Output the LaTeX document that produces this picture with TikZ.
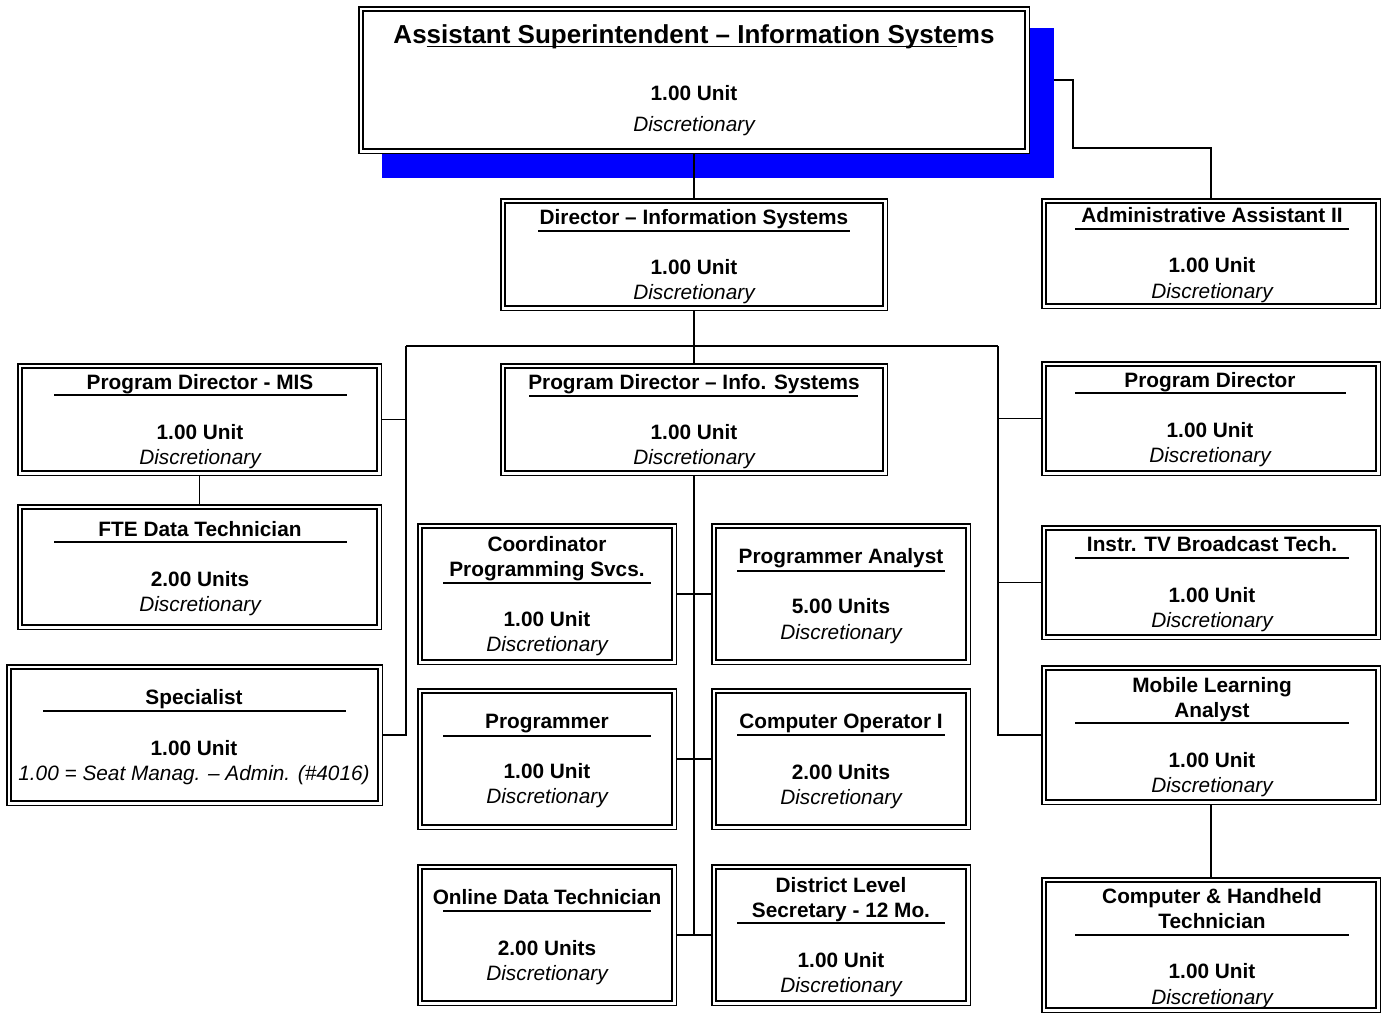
\documentclass[tikz,border=0pt]{standalone}
\usepackage{fontspec}
\setmainfont{Liberation Sans}
\newcommand\bodysize{\fontsize{10.4pt}{12pt}\selectfont}
\newcommand\ulpart[1]{{\setbox0\hbox{#1}\rlap{\rule[-2.2pt]{\wd0}{0.9pt}}\box0}}
\newcommand\orgbox[5]{%
  \node[obox, minimum width={(#4-#2-5.8)*0.5}, minimum height={(#5-#3-5.8)*0.5}] (#1) at ({(#2+#4)/2},{(#3+#5)/2}) {};}
\tikzset{
  obox/.style={draw=black, line width=0.75pt, double=white, double distance=1.4pt, fill=white, inner sep=0pt, outer sep=1.45pt},
  conn/.style={line width=0.9pt},
  ul/.style={line width=0.9pt},
  ttl/.style={font=\bodysize\bfseries, anchor=base, inner sep=0pt},
  unit/.style={font=\bodysize\bfseries, anchor=base, inner sep=0pt},
  disc/.style={font=\bodysize\itshape, anchor=base, inner sep=0pt},
}
\begin{document}
\begin{tikzpicture}[x=0.5pt, y=-0.5pt]
\useasboundingbox (0,0) rectangle (1382,1014);
\fill[white] (0,0) rectangle (1382,1014);

% shadow and top box
\node[fill=blue, inner sep=0pt, outer sep=0pt, minimum width={(1054-382)*0.5}, minimum height={(178-28)*0.5}] (shadow) at (718,103) {};
\orgbox{top}{358}{6}{1030}{154}
\node[ttl, font=\fontsize{13pt}{15pt}\selectfont\bfseries] (top-t) at (694,43) {As\ulpart{sistant Superintendent – Information Syste}ms};
\node[unit] (top-u) at (694,100) {1.00 Unit};
\node[disc] (top-d) at (694,131) {Discretionary};

% Director
\orgbox{dir}{500}{198}{888}{311}
\node[ttl] (dir-t) at (694,224) {Director – Information Systems};
\draw[ul] (538,231) -- (850,231);
\node[unit] (dir-u) at (694,274) {1.00 Unit};
\node[disc] (dir-d) at (694,299) {Discretionary};

% Admin assistant
\orgbox{admin}{1041}{198}{1381}{309}
\node[ttl] (admin-t) at (1212,222) {Administrative Assistant II};
\draw[ul] (1075,229) -- (1349,229);
\node[unit] (admin-u) at (1212,272) {1.00 Unit};
\node[disc] (admin-d) at (1212,298) {Discretionary};

% Program Director - MIS
\orgbox{pdmis}{17}{363}{382}{476}
\node[ttl] (pdmis-t) at (200,389) {Program Director - MIS};
\draw[ul] (54,395) -- (347,395);
\node[unit] (pdmis-u) at (200,439) {1.00 Unit};
\node[disc] (pdmis-d) at (200,464) {Discretionary};

% FTE
\orgbox{fte}{17}{504}{382}{630}
\node[ttl] (fte-t) at (200,536) {FTE Data Technician};
\draw[ul] (54,542) -- (347,542);
\node[unit] (fte-u) at (200,586) {2.00 Units};
\node[disc] (fte-d) at (200,611) {Discretionary};

% Specialist
\orgbox{spec}{6}{664}{383}{806}
\node[ttl] (spec-t) at (194,704) {Specialist};
\draw[ul] (43,711) -- (346,711);
\node[unit] (spec-u) at (194,755) {1.00 Unit};
\node[disc] (spec-d) at (194,780) {1.00 = Seat Manag. – Admin. (\#4016)};

% Program Director - Info Systems
\orgbox{pdis}{500}{363}{888}{476}
\node[ttl] (pdis-t) at (694,389) {Program Director – Info. Systems};
\draw[ul] (529,396) -- (858,396);
\node[unit] (pdis-u) at (694,439) {1.00 Unit};
\node[disc] (pdis-d) at (694,464) {Discretionary};

% Coordinator
\orgbox{coord}{417}{523}{677}{665}
\node[ttl] (coord-t1) at (547,551) {Coordinator};
\node[ttl] (coord-t2) at (547,576) {Programming Svcs.};
\draw[ul] (443,583) -- (651,583);
\node[unit] (coord-u) at (547,626) {1.00 Unit};
\node[disc] (coord-d) at (547,651) {Discretionary};

% Programmer Analyst
\orgbox{panal}{711}{523}{971}{665}
\node[ttl] (panal-t) at (841,563) {Programmer Analyst};
\draw[ul] (737,571) -- (945,571);
\node[unit] (panal-u) at (841,613) {5.00 Units};
\node[disc] (panal-d) at (841,639) {Discretionary};

% Programmer
\orgbox{prog}{417}{688}{677}{830}
\node[ttl] (prog-t) at (547,728) {Programmer};
\draw[ul] (443,736) -- (651,736);
\node[unit] (prog-u) at (547,778) {1.00 Unit};
\node[disc] (prog-d) at (547,803) {Discretionary};

% Computer Operator I
\orgbox{cop}{711}{688}{971}{830}
\node[ttl] (cop-t) at (841,728) {Computer Operator I};
\draw[ul] (737,735) -- (945,735);
\node[unit] (cop-u) at (841,779) {2.00 Units};
\node[disc] (cop-d) at (841,804) {Discretionary};

% Online Data Technician
\orgbox{online}{417}{864}{677}{1006}
\node[ttl] (online-t) at (547,904) {Online Data Technician};
\draw[ul] (443,911) -- (651,911);
\node[unit] (online-u) at (547,955) {2.00 Units};
\node[disc] (online-d) at (547,980) {Discretionary};

% District Level Secretary
\orgbox{dls}{711}{864}{971}{1006}
\node[ttl] (dls-t1) at (841,892) {District Level};
\node[ttl] (dls-t2) at (841,917) {Secretary - 12 Mo.};
\draw[ul] (737,923) -- (945,923);
\node[unit] (dls-u) at (841,967) {1.00 Unit};
\node[disc] (dls-d) at (841,992) {Discretionary};

% Program Director (right)
\orgbox{pdir}{1041}{361}{1381}{476}
\node[ttl] (pdir-t) at (1210,387) {Program Director};
\draw[ul] (1075,393) -- (1346,393);
\node[unit] (pdir-u) at (1210,437) {1.00 Unit};
\node[disc] (pdir-d) at (1210,462) {Discretionary};

% Instr TV
\orgbox{itv}{1041}{525}{1381}{640}
\node[ttl] (itv-t) at (1212,551) {Instr. TV Broadcast Tech.};
\draw[ul] (1075,558) -- (1349,558);
\node[unit] (itv-u) at (1212,602) {1.00 Unit};
\node[disc] (itv-d) at (1212,627) {Discretionary};

% Mobile Learning Analyst
\orgbox{mla}{1041}{665}{1381}{805}
\node[ttl] (mla-t1) at (1212,692) {Mobile Learning};
\node[ttl] (mla-t2) at (1212,717) {Analyst};
\draw[ul] (1075,723) -- (1349,723);
\node[unit] (mla-u) at (1212,767) {1.00 Unit};
\node[disc] (mla-d) at (1212,792) {Discretionary};

% Computer & Handheld Technician
\orgbox{chh}{1041}{877}{1381}{1013}
\node[ttl] (chh-t1) at (1212,903) {Computer \& Handheld};
\node[ttl] (chh-t2) at (1212,928) {Technician};
\draw[ul] (1075,935) -- (1349,935);
\node[unit] (chh-u) at (1212,978) {1.00 Unit};
\node[disc] (chh-d) at (1212,1004) {Discretionary};

% connectors
\coordinate (busL) at (406,346);
\coordinate (busR) at (998,346);
\coordinate (bend) at (1073,148);
\draw[conn] (top.south) -- (dir.north);
\draw[conn] (top.east -| shadow.east) -| (bend) -| (admin.north);
\draw[conn] (dir.south) -- (pdis.north);
\draw[conn] (busL) -- (busR);
\draw[conn] (busL) |- (spec.east);
\draw[conn] (pdmis.east) -- (pdmis.east -| busL);
\draw[conn] (busR) |- (mla.west);
\draw[conn] (pdir.west) -- (pdir.west -| busR);
\draw[conn] (itv.west) -- (itv.west -| busR);
\draw[conn] (pdmis.south) -- (fte.north);
\draw[conn] (mla.south) -- (chh.north);
\draw[conn] (pdis.south) -- (pdis.south |- online.east);
\draw[conn] (coord.east) -- (panal.west);
\draw[conn] (prog.east) -- (cop.west);
\draw[conn] (online.east) -- (dls.west);
\end{tikzpicture}
\end{document}
